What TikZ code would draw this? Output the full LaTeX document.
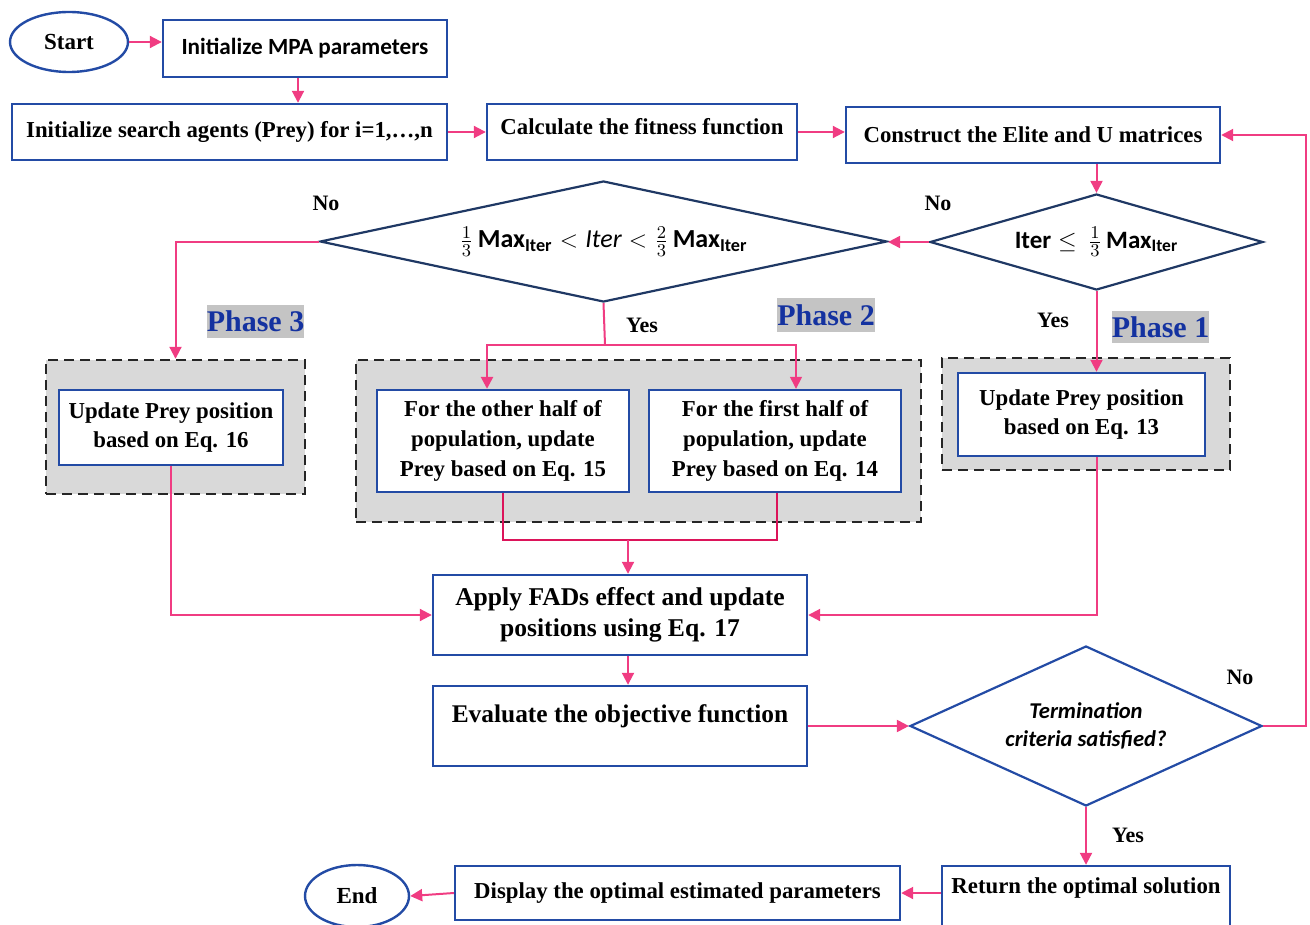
\documentclass[tikz,border=0pt]{standalone}
\usepackage{fontspec}
\usepackage{amsmath}
\setmainfont{Liberation Serif}
\newfontfamily\calfont{Carlito}
\usetikzlibrary{shapes.geometric,arrows.meta,calc}
\definecolor{boxblue}{RGB}{35,75,165}
\definecolor{navy}{RGB}{31,56,100}
\definecolor{pinkc}{RGB}{240,60,130}
\definecolor{crims}{RGB}{220,20,90}
\definecolor{grayfill}{RGB}{217,217,217}
\definecolor{labgray}{RGB}{196,196,196}
\definecolor{phblue}{RGB}{20,50,160}
\begin{document}
\begin{tikzpicture}[x=0.5pt,y=-0.5pt,
  box/.style={draw=boxblue,line width=1.2pt,fill=white,rectangle,inner sep=2pt,align=center,font=\bfseries\fontsize{11.4}{14.8}\selectfont},
  oval/.style={draw=boxblue,line width=1.2pt,ellipse,inner sep=0pt,font=\bfseries\fontsize{11.5}{13}\selectfont},
  dia/.style={draw=navy,line width=1.1pt,diamond,inner sep=0pt,align=center},
  dashbox/.style={draw=black!85,dashed,dash pattern=on 5pt off 3pt,line width=1.2pt,fill=grayfill,rectangle,inner sep=0pt},
  phlab/.style={fill=labgray,text=phblue,inner sep=0pt,font=\bfseries\fontsize{15}{17}\selectfont},
  arr/.style={draw=pinkc,line width=1pt,-{Triangle[length=6pt,width=6pt]}},
  ln/.style={draw=pinkc,line width=1pt},
  lab/.style={font=\bfseries\fontsize{11}{12}\selectfont,inner sep=0pt}]
\clip (0,0) rectangle (1310,925);
\useasboundingbox (0,0) rectangle (1310,925);
% top row
\node[oval,minimum width=59pt,minimum height=30pt] (start) at (69,42) {Start};
\node[box,minimum width=142pt,minimum height=28.5pt,font=\calfont\bfseries\fontsize{11.6}{13}\selectfont] (mpa) at (305,48.5) {Initialize MPA parameters};
\node[box,minimum width=217.5pt,minimum height=28pt] (agents) at (229.5,132) {Initialize search agents (Prey) for i=1,\dots,n};
\node[box,minimum width=155pt,minimum height=28pt,text depth=6pt] (calc) at (642,132) {Calculate the fitness function};
\node[box,minimum width=187pt,minimum height=28pt] (cons) at (1033,135) {Construct the Elite and U matrices};
% diamonds
\node[dia,minimum width=166.5pt,minimum height=48pt,shape aspect=3.4,font=\calfont\bfseries\fontsize{12.5}{14}\selectfont] (d1) at (1096.5,242) {Iter\;$\leq$\;\,$\tfrac{1}{3}$\,Max\textsubscript{Iter}};
\node[dia,minimum width=283.5pt,minimum height=60.5pt,shape aspect=4.6,font=\calfont\bfseries\fontsize{13}{15}\selectfont] (d2) at (603.5,241.5) {$\tfrac{1}{3}$\,Max\textsubscript{Iter}\;$<$\;{\mdseries\itshape Iter}\;$<$\;$\tfrac{2}{3}$\,Max\textsubscript{Iter}};
% phase containers
\node[dashbox,minimum width=129.5pt,minimum height=67pt] (ph3) at (175.5,427) {};
\node[box,minimum width=112pt,minimum height=37.5pt] (ph3in) at (171,427.5) {Update Prey position\\based on Eq. 16};
\node[dashbox,minimum width=282.5pt,minimum height=81pt] (ph2) at (638.5,441) {};
\node[box,minimum width=126pt,minimum height=51pt] (ph2L) at (503,441) {For the other half of\\population, update\\Prey based on Eq. 15};
\node[box,minimum width=126pt,minimum height=51pt] (ph2R) at (775,441) {For the first half of\\population, update\\Prey based on Eq. 14};
\node[dashbox,minimum width=144pt,minimum height=56pt] (ph1) at (1086,414) {};
\node[box,minimum width=123.5pt,minimum height=41.5pt] (ph1in) at (1081.5,414.5) {Update Prey position\\based on Eq. 13};
\node[phlab,minimum width=48.5pt,minimum height=16.5pt] (p3lab) at (255.5,321.5) {Phase 3};
\node[phlab,minimum width=49pt,minimum height=17pt] (p2lab) at (826,315) {Phase 2};
\node[phlab,minimum width=48.5pt,minimum height=16pt] (p1lab) at (1160.5,327) {Phase 1};
% lower part
\node[box,minimum width=187pt,minimum height=40pt,font=\bfseries\fontsize{12.8}{15.5}\selectfont] (apply) at (620,615) {Apply FADs effect and update\\positions using Eq. 17};
\node[box,minimum width=187pt,minimum height=40pt,text depth=12pt,font=\bfseries\fontsize{12.7}{14}\selectfont] (eval) at (620,726) {Evaluate the objective function};
\node[dia,draw=boxblue,minimum width=176pt,minimum height=80pt,shape aspect=2.2,font=\calfont\bfseries\itshape\fontsize{11.3}{14}\selectfont] (d3) at (1086,726) {Termination\\criteria satisfied?};
\node[box,minimum width=144pt,minimum height=34pt,text depth=14pt] (ret) at (1086,900) {Return the optimal solution};
\node[box,minimum width=222.5pt,minimum height=27pt] (disp) at (677.5,893) {Display the optimal estimated parameters};
\node[oval,minimum width=52pt,minimum height=31pt] (end) at (357,896) {End};
% labels
\node[lab] (no1) at (326,203) {No};
\node[lab] (no2) at (938,203) {No};
\node[lab] (yes1) at (642,325) {Yes};
\node[lab] (yes2) at (1053,320) {Yes};
\node[lab] (no3) at (1240,677) {No};
\node[lab] (yes3) at (1128,835) {Yes};
% connectors
\draw[arr] (start.east) -- (start.east -| mpa.west);
\draw[arr] (mpa.south -| 298,0) -- (agents.north -| 298,0);
\draw[arr] (agents.east) -- (calc.west);
\draw[arr] (calc.east) -- (calc.east -| cons.west);
\draw[arr] (d1.north |- cons.south) -- (d1.north);
\draw[arr] (d1.west) -- (d1.west -| d2.east);
\draw[arr] (d2.west) -| (ph3.north);
\coordinate (split) at (605,345);
\draw[ln] (d2.south) -- (split);
\draw[arr,line width=1.3pt] (split) -| ($(ph2L.north)+(-16,0)$);
\draw[ln,line width=1.3pt] (split) -- (768,345);
\draw[arr,line width=0.7pt] (split) -| ($(ph2R.north)+(21,0)$);
\coordinate (j2) at (628,540);
\draw[draw=crims,line width=1.4pt] (ph2L.south) |- (j2) -| ($(ph2R.south)+(2,0)$);
\draw[arr] (j2) -- (j2 |- apply.north);
\draw[arr] (d1.south) -- (d1.south |- ph1in.north);
\draw[arr] (d1.south |- ph1in.south) |- (apply.east);
\draw[arr] (ph3in.south) |- (apply.west);
\draw[arr] (j2 |- apply.south) -- (j2 |- eval.north);
\draw[arr] (eval.east) -- (d3.west);
\draw[arr] (d3.east) -- (1306,726) |- (cons.east);
\draw[arr] (d3.south) -- (ret.north);
\draw[arr] (disp.east -| ret.west) -- (disp.east);
\draw[arr] (disp.west) -- (end.east);
\end{tikzpicture}
\end{document}
